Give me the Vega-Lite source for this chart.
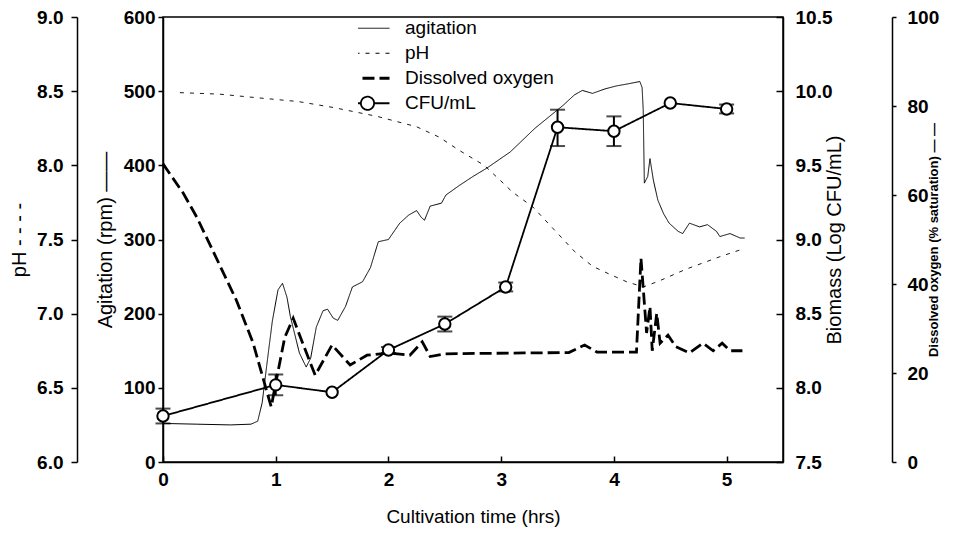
{
  "$schema": "https://vega.github.io/schema/vega-lite/v6.json",
  "width": 620,
  "height": 445,
  "autosize": "none",
  "padding": {"left": 163, "top": 17, "right": 170, "bottom": 71},
  "background": "white",
  "config": {
    "font": "Liberation Sans",
    "view": {"stroke": "black", "strokeWidth": 1.5},
    "axis": {
      "grid": false,
      "domainColor": "black",
      "domainWidth": 1.5,
      "tickColor": "black",
      "tickWidth": 1.5,
      "labelColor": "black",
      "titleColor": "black",
      "labelFont": "Liberation Sans",
      "titleFont": "Liberation Sans",
      "labelFontSize": 19,
      "labelFontWeight": "bold",
      "titleFontSize": 20,
      "titleFontWeight": "normal",
      "labelFlush": false,
      "labelOverlap": false
    },
    "legend": {
      "labelFont": "Liberation Sans",
      "labelFontSize": 19,
      "labelColor": "black",
      "symbolType": "stroke",
      "symbolSize": 1936,
      "symbolStrokeColor": "black",
      "clipHeight": 24.5,
      "rowPadding": 0,
      "labelOffset": 28,
      "padding": 0
    }
  },
  "datasets": {
    "ph": [
      {"series": "pH", "t": 0.15, "pH": 8.49},
      {"series": "pH", "t": 0.5, "pH": 8.48},
      {"series": "pH", "t": 0.83, "pH": 8.456},
      {"series": "pH", "t": 1.2, "pH": 8.43},
      {"series": "pH", "t": 1.51, "pH": 8.39},
      {"series": "pH", "t": 1.9, "pH": 8.33},
      {"series": "pH", "t": 2.25, "pH": 8.26},
      {"series": "pH", "t": 2.45, "pH": 8.19},
      {"series": "pH", "t": 2.63, "pH": 8.1},
      {"series": "pH", "t": 2.85, "pH": 8.0},
      {"series": "pH", "t": 2.99, "pH": 7.9},
      {"series": "pH", "t": 3.1, "pH": 7.82},
      {"series": "pH", "t": 3.28, "pH": 7.72},
      {"series": "pH", "t": 3.49, "pH": 7.55},
      {"series": "pH", "t": 3.65, "pH": 7.42},
      {"series": "pH", "t": 3.81, "pH": 7.32},
      {"series": "pH", "t": 3.95, "pH": 7.27},
      {"series": "pH", "t": 4.11, "pH": 7.216},
      {"series": "pH", "t": 4.26, "pH": 7.18},
      {"series": "pH", "t": 4.4, "pH": 7.22},
      {"series": "pH", "t": 4.64, "pH": 7.3},
      {"series": "pH", "t": 4.94, "pH": 7.384},
      {"series": "pH", "t": 5.16, "pH": 7.44}
    ],
    "agit": [
      {"series": "agitation", "t": 0, "rpm": 52},
      {"series": "agitation", "t": 0.3, "rpm": 51},
      {"series": "agitation", "t": 0.6, "rpm": 50},
      {"series": "agitation", "t": 0.78, "rpm": 51},
      {"series": "agitation", "t": 0.84, "rpm": 55},
      {"series": "agitation", "t": 0.88, "rpm": 80},
      {"series": "agitation", "t": 0.92, "rpm": 130},
      {"series": "agitation", "t": 0.97, "rpm": 190},
      {"series": "agitation", "t": 1.02, "rpm": 232},
      {"series": "agitation", "t": 1.06, "rpm": 241},
      {"series": "agitation", "t": 1.1, "rpm": 222},
      {"series": "agitation", "t": 1.13, "rpm": 196},
      {"series": "agitation", "t": 1.21, "rpm": 147},
      {"series": "agitation", "t": 1.27, "rpm": 128},
      {"series": "agitation", "t": 1.31, "rpm": 140},
      {"series": "agitation", "t": 1.36, "rpm": 182},
      {"series": "agitation", "t": 1.42, "rpm": 204},
      {"series": "agitation", "t": 1.46, "rpm": 206},
      {"series": "agitation", "t": 1.51, "rpm": 194},
      {"series": "agitation", "t": 1.55, "rpm": 191},
      {"series": "agitation", "t": 1.62, "rpm": 210},
      {"series": "agitation", "t": 1.68, "rpm": 236},
      {"series": "agitation", "t": 1.77, "rpm": 243},
      {"series": "agitation", "t": 1.84, "rpm": 262},
      {"series": "agitation", "t": 1.91, "rpm": 297},
      {"series": "agitation", "t": 2.0, "rpm": 300},
      {"series": "agitation", "t": 2.1, "rpm": 322},
      {"series": "agitation", "t": 2.18, "rpm": 333},
      {"series": "agitation", "t": 2.25, "rpm": 339},
      {"series": "agitation", "t": 2.29, "rpm": 330},
      {"series": "agitation", "t": 2.32, "rpm": 326},
      {"series": "agitation", "t": 2.37, "rpm": 345},
      {"series": "agitation", "t": 2.47, "rpm": 349},
      {"series": "agitation", "t": 2.51, "rpm": 360},
      {"series": "agitation", "t": 2.63, "rpm": 373},
      {"series": "agitation", "t": 2.75, "rpm": 385},
      {"series": "agitation", "t": 2.87, "rpm": 396},
      {"series": "agitation", "t": 3.08, "rpm": 418},
      {"series": "agitation", "t": 3.3, "rpm": 450},
      {"series": "agitation", "t": 3.55, "rpm": 481},
      {"series": "agitation", "t": 3.65, "rpm": 495},
      {"series": "agitation", "t": 3.72, "rpm": 501},
      {"series": "agitation", "t": 3.81, "rpm": 497},
      {"series": "agitation", "t": 3.92, "rpm": 503},
      {"series": "agitation", "t": 4.02, "rpm": 507},
      {"series": "agitation", "t": 4.13, "rpm": 510},
      {"series": "agitation", "t": 4.23, "rpm": 513},
      {"series": "agitation", "t": 4.25, "rpm": 505},
      {"series": "agitation", "t": 4.26, "rpm": 475},
      {"series": "agitation", "t": 4.27, "rpm": 376},
      {"series": "agitation", "t": 4.3, "rpm": 385},
      {"series": "agitation", "t": 4.32, "rpm": 409},
      {"series": "agitation", "t": 4.35, "rpm": 380},
      {"series": "agitation", "t": 4.39, "rpm": 353},
      {"series": "agitation", "t": 4.44, "rpm": 335},
      {"series": "agitation", "t": 4.49, "rpm": 322},
      {"series": "agitation", "t": 4.57, "rpm": 311},
      {"series": "agitation", "t": 4.61, "rpm": 308},
      {"series": "agitation", "t": 4.67, "rpm": 322},
      {"series": "agitation", "t": 4.76, "rpm": 317},
      {"series": "agitation", "t": 4.83, "rpm": 320},
      {"series": "agitation", "t": 4.91, "rpm": 311},
      {"series": "agitation", "t": 4.94, "rpm": 304},
      {"series": "agitation", "t": 5.03, "rpm": 308},
      {"series": "agitation", "t": 5.12, "rpm": 302},
      {"series": "agitation", "t": 5.16, "rpm": 302}
    ],
    "do": [
      {"series": "Dissolved oxygen", "t": 0, "do": 67},
      {"series": "Dissolved oxygen", "t": 0.18, "do": 60.4},
      {"series": "Dissolved oxygen", "t": 0.3, "do": 55},
      {"series": "Dissolved oxygen", "t": 0.44, "do": 47.6},
      {"series": "Dissolved oxygen", "t": 0.65, "do": 36.4},
      {"series": "Dissolved oxygen", "t": 0.8, "do": 26.7},
      {"series": "Dissolved oxygen", "t": 0.9, "do": 17.7},
      {"series": "Dissolved oxygen", "t": 0.96, "do": 12.4},
      {"series": "Dissolved oxygen", "t": 1.01, "do": 19},
      {"series": "Dissolved oxygen", "t": 1.08, "do": 28},
      {"series": "Dissolved oxygen", "t": 1.155, "do": 32.3},
      {"series": "Dissolved oxygen", "t": 1.25, "do": 26},
      {"series": "Dissolved oxygen", "t": 1.35, "do": 19.5},
      {"series": "Dissolved oxygen", "t": 1.5, "do": 26.3},
      {"series": "Dissolved oxygen", "t": 1.66, "do": 21.8},
      {"series": "Dissolved oxygen", "t": 1.81, "do": 24},
      {"series": "Dissolved oxygen", "t": 2.01, "do": 24.5},
      {"series": "Dissolved oxygen", "t": 2.19, "do": 24},
      {"series": "Dissolved oxygen", "t": 2.3, "do": 27},
      {"series": "Dissolved oxygen", "t": 2.37, "do": 23.7},
      {"series": "Dissolved oxygen", "t": 2.5, "do": 24.3},
      {"series": "Dissolved oxygen", "t": 2.8, "do": 24.4},
      {"series": "Dissolved oxygen", "t": 3.2, "do": 24.5},
      {"series": "Dissolved oxygen", "t": 3.6, "do": 24.6},
      {"series": "Dissolved oxygen", "t": 3.74, "do": 26.3},
      {"series": "Dissolved oxygen", "t": 3.85, "do": 24.7},
      {"series": "Dissolved oxygen", "t": 4.2, "do": 24.7},
      {"series": "Dissolved oxygen", "t": 4.24, "do": 45.8},
      {"series": "Dissolved oxygen", "t": 4.29, "do": 29},
      {"series": "Dissolved oxygen", "t": 4.32, "do": 34.9},
      {"series": "Dissolved oxygen", "t": 4.34, "do": 25},
      {"series": "Dissolved oxygen", "t": 4.38, "do": 33.4},
      {"series": "Dissolved oxygen", "t": 4.41, "do": 26.7},
      {"series": "Dissolved oxygen", "t": 4.48, "do": 28.5},
      {"series": "Dissolved oxygen", "t": 4.55, "do": 25.9},
      {"series": "Dissolved oxygen", "t": 4.67, "do": 24.5},
      {"series": "Dissolved oxygen", "t": 4.79, "do": 26.7},
      {"series": "Dissolved oxygen", "t": 4.88, "do": 25},
      {"series": "Dissolved oxygen", "t": 4.96, "do": 26.7},
      {"series": "Dissolved oxygen", "t": 5.03, "do": 25},
      {"series": "Dissolved oxygen", "t": 5.14, "do": 25}
    ],
    "cfu": [
      {"series": "CFU/mL", "t": 0, "logcfu": 7.81, "lo": 7.76, "hi": 7.86},
      {"series": "CFU/mL", "t": 1, "logcfu": 8.02, "lo": 7.95, "hi": 8.09},
      {"series": "CFU/mL", "t": 1.5, "logcfu": 7.97},
      {"series": "CFU/mL", "t": 2, "logcfu": 8.255, "lo": 8.235, "hi": 8.275},
      {"series": "CFU/mL", "t": 2.5, "logcfu": 8.43, "lo": 8.38, "hi": 8.48},
      {"series": "CFU/mL", "t": 3.04, "logcfu": 8.68, "lo": 8.65, "hi": 8.71},
      {"series": "CFU/mL", "t": 3.5, "logcfu": 9.757, "lo": 9.63, "hi": 9.875},
      {"series": "CFU/mL", "t": 4, "logcfu": 9.73, "lo": 9.63, "hi": 9.83},
      {"series": "CFU/mL", "t": 4.5, "logcfu": 9.92},
      {"series": "CFU/mL", "t": 5, "logcfu": 9.88, "lo": 9.85, "hi": 9.91}
    ]
  },
  "encoding": {
    "x": {
      "field": "t",
      "type": "quantitative",
      "scale": {"domain": [0, 5.5], "nice": false},
      "axis": {
        "title": "Cultivation time (hrs)",
        "values": [0, 1, 2, 3, 4, 5],
        "format": "d",
        "tickSize": -6,
        "labelPadding": 14,
        "titlePadding": 18,
        "titleFontSize": 19
      }
    }
  },
  "layer": [
    {
      "data": {"name": "ph"},
      "mark": {"type": "line", "color": "black", "strokeWidth": 0.9},
      "encoding": {
        "y": {
          "field": "pH",
          "type": "quantitative",
          "scale": {"domain": [6, 9], "nice": false, "zero": false},
          "axis": {
            "orient": "left",
            "offset": 86,
            "title": "pH - - - -",
            "values": [6, 6.5, 7, 7.5, 8, 8.5, 9],
            "format": ".1f",
            "tickSize": 6,
            "labelPadding": 8,
            "titlePadding": 7
          }
        },
        "strokeDash": {
          "field": "series",
          "type": "nominal",
          "scale": {
            "domain": ["agitation", "pH", "Dissolved oxygen", "CFU/mL"],
            "range": [[1, 0], [4, 6], [12, 5], [1, 0]]
          },
          "legend": {
            "title": null,
            "orient": "none",
            "legendX": 195,
            "legendY": -1,
            "encode": {
              "symbols": {
                "update": {
                  "shape": {"signal": "datum.value === 'CFU/mL' ? 'M-1,0H-0.3M0.3,0H1M-0.3,0A0.3,0.3 0 1,1 0.3,0A0.3,0.3 0 1,1 -0.3,0' : 'stroke'"},
                  "strokeWidth": {"signal": "datum.value === 'Dissolved oxygen' ? 3 : datum.value === 'CFU/mL' ? 1.8 : 1"},
                  "fill": {"value": "white"},
                  "stroke": {"value": "black"}
                }
              }
            }
          }
        }
      }
    },
    {
      "data": {"name": "agit"},
      "mark": {"type": "line", "color": "black", "strokeWidth": 1},
      "encoding": {
        "y": {
          "field": "rpm",
          "type": "quantitative",
          "scale": {"domain": [0, 600], "nice": false},
          "axis": {
            "orient": "left",
            "offset": 0,
            "title": "Agitation (rpm) ——",
            "values": [0, 100, 200, 300, 400, 500, 600],
            "tickSize": 5,
            "labelPadding": 3,
            "titlePadding": 8
          }
        },
        "strokeDash": {"field": "series", "type": "nominal"}
      }
    },
    {
      "data": {"name": "do"},
      "mark": {"type": "line", "color": "black", "strokeWidth": 2.8},
      "encoding": {
        "y": {
          "field": "do",
          "type": "quantitative",
          "scale": {"domain": [0, 100], "nice": false},
          "axis": {
            "orient": "right",
            "offset": 109,
            "title": "Dissolved oxygen (% saturation) — —",
            "titleFontSize": 13,
            "titleFontWeight": "bold",
            "titleAngle": 270,
            "values": [0, 20, 40, 60, 80, 100],
            "tickSize": 4,
            "labelPadding": 11,
            "titlePadding": 2
          }
        },
        "strokeDash": {"field": "series", "type": "nominal"}
      }
    },
    {
      "data": {"name": "cfu"},
      "encoding": {
        "y": {
          "field": "logcfu",
          "type": "quantitative",
          "scale": {"domain": [7.5, 10.5], "nice": false, "zero": false},
          "axis": {
            "orient": "right",
            "offset": 0,
            "title": "Biomass (Log CFU/mL)",
            "titleAngle": 270,
            "values": [7.5, 8, 8.5, 9, 9.5, 10, 10.5],
            "format": ".1f",
            "tickSize": -7,
            "labelPadding": 19,
            "titlePadding": 13
          }
        }
      },
      "layer": [
        {
          "mark": {"type": "line", "color": "black", "strokeWidth": 1.8},
          "encoding": {
            "strokeDash": {"field": "series", "type": "nominal"}
          }
        },
        {
          "transform": [{"filter": "isValid(datum.lo)"}],
          "mark": {"type": "rule", "color": "black", "strokeWidth": 2},
          "encoding": {
            "y": {"field": "lo", "type": "quantitative"},
            "y2": {"field": "hi"}
          }
        },
        {
          "transform": [{"filter": "isValid(datum.lo)"}],
          "mark": {"type": "tick", "color": "black", "orient": "horizontal", "size": 15, "thickness": 2},
          "encoding": {"y": {"field": "lo", "type": "quantitative"}}
        },
        {
          "transform": [{"filter": "isValid(datum.hi)"}],
          "mark": {"type": "tick", "color": "black", "orient": "horizontal", "size": 15, "thickness": 2},
          "encoding": {"y": {"field": "hi", "type": "quantitative"}}
        },
        {
          "mark": {"type": "point", "shape": "circle", "filled": true, "fill": "white", "stroke": "black", "strokeWidth": 2, "size": 130, "opacity": 1},
          "encoding": {}
        }
      ]
    }
  ],
  "resolve": {"scale": {"y": "independent"}}
}
